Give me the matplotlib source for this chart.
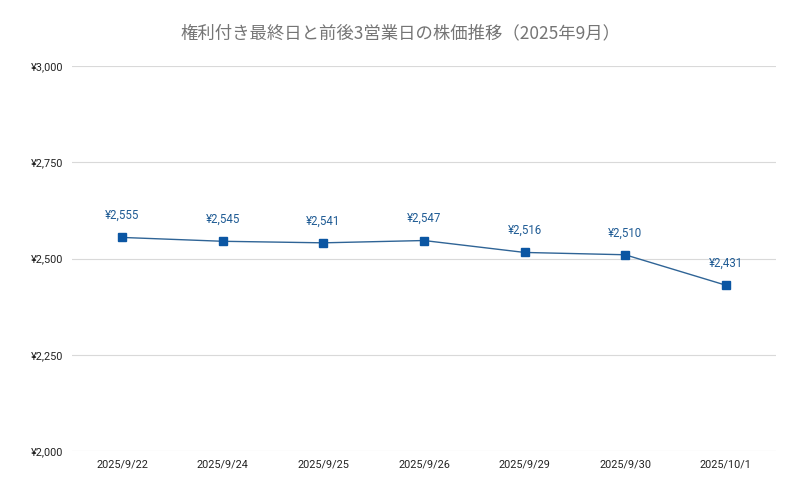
import matplotlib
matplotlib.use("Agg")
import matplotlib.pyplot as plt
from matplotlib.ticker import FuncFormatter

plt.rcParams['font.family'] = ['Roboto', 'Noto Sans CJK JP', 'DejaVu Sans']

dates = ["2025/9/22", "2025/9/24", "2025/9/25", "2025/9/26", "2025/9/29", "2025/9/30", "2025/10/1"]
prices = [2555, 2545, 2541, 2547, 2516, 2510, 2431]
yticks = [2000, 2250, 2500, 2750, 3000]
title = "権利付き最終日と前後3営業日の株価推移（2025年9月）"

fig = plt.figure(figsize=(8, 4.94), dpi=100)
ax = fig.add_axes([0.09, 0.087, 0.88, 0.779])
x = list(range(len(dates)))
ax.plot(x, prices, color="#2f6496", linewidth=1.0, marker="s", markersize=6,
        markerfacecolor="#0b56a3", markeredgecolor="#0b56a3", zorder=3)
for xi, p in zip(x, prices):
    ax.annotate(f"¥{p:,}", (xi, p), textcoords="offset points", xytext=(0, 11),
                ha="center", va="bottom", fontsize=8.3, color="#1f5b94")
ax.set_xlim(-0.5, len(dates) - 0.5)
ax.set_ylim(2000, 3000)
ax.set_yticks(yticks)
ax.yaxis.set_major_formatter(FuncFormatter(lambda v, _: f"¥{int(v):,}"))
ax.set_xticks(x)
ax.set_xticklabels(dates)
ax.tick_params(axis="both", length=0, labelsize=7.8, colors="#222222")
ax.tick_params(axis="x", pad=6)
ax.tick_params(axis="y", pad=6)
ax.grid(axis="y", color="#d9d9d9", linewidth=0.8)
ax.set_axisbelow(True)
for s in ax.spines.values():
    s.set_visible(False)
fig.text(0.5, 1 - 33 / 494, title, ha="center", va="center", fontsize=12.5,
         color="#757575", family=['Noto Sans CJK JP', 'DejaVu Sans'])
fig.savefig("out.png", dpi=100, facecolor="white")
